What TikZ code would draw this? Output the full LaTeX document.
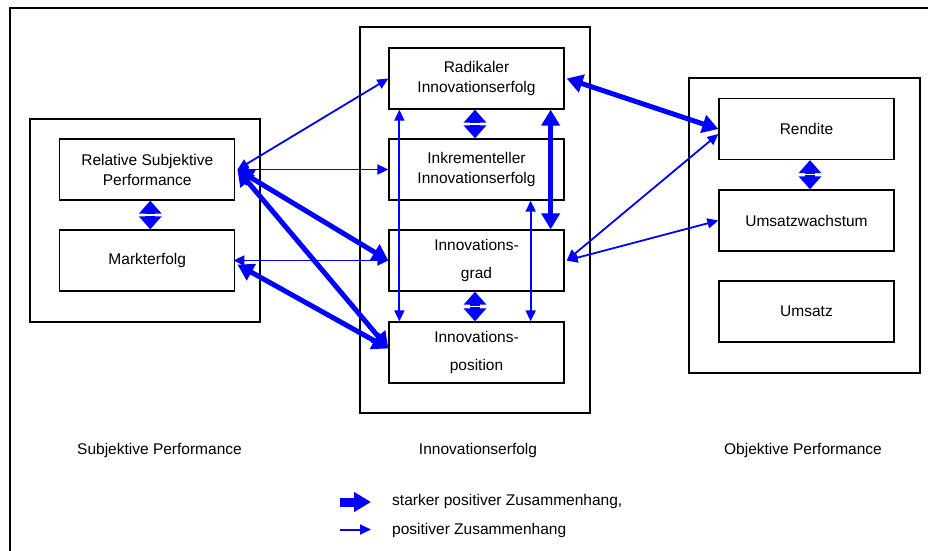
\documentclass[tikz,border=0pt]{standalone}
\usepackage{fontspec}
\setmainfont{Liberation Sans}
\usetikzlibrary{arrows.meta,calc}
\definecolor{arrblue}{RGB}{0,0,255}
\begin{document}
\begin{tikzpicture}[x=1pt,y=-1pt,
  box/.style={draw=black, line width=1.3pt, minimum width=175pt, minimum height=61pt,
    inner sep=0pt, align=center, font=\fontsize{15.5}{20}\selectfont},
  grp/.style={draw=black, line width=1.5pt},
  lbl/.style={inner sep=0pt, font=\fontsize{15.5}{20}\selectfont},
  posarrow/.style={draw=arrblue, line width=1.8pt,
    {Triangle[length=11pt,width=10pt]}-{Triangle[length=11pt,width=10pt]}},
  strongarrow/.style={draw=arrblue, line width=5pt,
    {Triangle[length=16pt,width=18pt]}-{Triangle[length=16pt,width=18pt]}},
  blockarrow/.style={draw=arrblue, line width=10pt, -{Triangle[length=13pt,width=22pt]}},
  legstrong/.style={draw=arrblue, line width=9pt, -{Triangle[length=17pt,width=19pt]}},
  legpos/.style={draw=arrblue, line width=2pt, -{Triangle[length=11pt,width=10pt]}},
]
\useasboundingbox (0,0) rectangle (928,550);
% outer frame
\draw[line width=2pt] (10,560) -- (10,8) -- (940,8);
% group boxes
\draw[grp] (30,119) rectangle (260,322);
\draw[grp] (360,27) rectangle (590,413);
\draw[grp] (689,78) rectangle (920,373);
% nodes
\node[box] (rsp) at (147.25,169.5) {Relative Subjektive\\Performance};
\node[box] (mkt) at (147.25,260.5) {Markterfolg};
\node[box] (rad) at (476.5,78.5) {Radikaler\\Innovationserfolg};
\node[box] (ink) at (476.5,169.5) {Inkrementeller\\Innovationserfolg};
\node[box] (grad) at (476.5,260.5) {Innovations-\\[8pt]grad};
\node[box] (pos) at (476.5,352.5) {Innovations-\\[8pt]position};
\node[box] (ren) at (806.5,129) {Rendite};
\node[box] (uw) at (806.5,220.5) {Umsatzwachstum};
\node[box] (ums) at (806.5,311.5) {Umsatz};
% group labels
\node[lbl] (lsub) at (159.5,450) {Subjektive Performance};
\node[lbl] (linn) at (478,450) {Innovationserfolg};
\node[lbl] (lobj) at (803,450) {Objektive Performance};
% connectors left
\draw[posarrow] ([xshift=2pt]rsp.east) -- (rad.west);
\draw[posarrow] ([xshift=2pt]rsp.east) -- (ink.west);
\draw[strongarrow] ([xshift=2pt]rsp.east) -- (grad.west);
\draw[strongarrow] ([xshift=2pt]rsp.east) -- ([yshift=4pt]pos.west);
\draw[posarrow] ([xshift=-2pt]mkt.east) -- (grad.west);
\draw[strongarrow] ([xshift=2pt,yshift=-4pt]mkt.east) -- ([yshift=4pt]pos.west);
% vertical connectors middle
\draw[posarrow] ([xshift=11pt]rad.south west) -- ([xshift=11pt]pos.north west);
\draw[posarrow] ([xshift=-34pt]ink.south east) -- ([xshift=-34pt]pos.north east);
\draw[strongarrow] ([xshift=-14pt]rad.south east) -- ([xshift=-14pt]grad.north east);
% right connectors
\draw[strongarrow] ([xshift=2pt]rad.east) -- (ren.west);
\draw[posarrow] ([yshift=-5pt]ren.west) -- ([xshift=2pt]grad.east);
\draw[posarrow] (uw.west) -- ([xshift=2pt]grad.east);
% short double block arrows
\coordinate (m1) at ($([xshift=3pt]rsp.south)!.5!([xshift=3pt]mkt.north)$);
\draw[blockarrow] ($(m1)+(0,-0.7)$) -- ([xshift=3pt]rsp.south);
\draw[blockarrow] ($(m1)+(0,0.7)$) -- ([xshift=3pt]mkt.north);
\coordinate (m2) at ($([xshift=-1.5pt]rad.south)!.5!([xshift=-1.5pt]ink.north)$);
\draw[blockarrow] ($(m2)+(0,-0.7)$) -- ([xshift=-1.5pt]rad.south);
\draw[blockarrow] ($(m2)+(0,0.7)$) -- ([xshift=-1.5pt]ink.north);
\coordinate (m3) at ($([xshift=-1.5pt]grad.south)!.5!([xshift=-1.5pt]pos.north)$);
\draw[blockarrow] ($(m3)+(0,-0.7)$) -- ([xshift=-1.5pt]grad.south);
\draw[blockarrow] ($(m3)+(0,0.7)$) -- ([xshift=-1.5pt]pos.north);
\coordinate (m4) at ($([xshift=3.5pt]ren.south)!.5!([xshift=3.5pt]uw.north)$);
\draw[blockarrow] ($(m4)+(0,-0.7)$) -- ([xshift=3.5pt]ren.south);
\draw[blockarrow] ($(m4)+(0,0.7)$) -- ([xshift=3.5pt]uw.north);
% legend
\coordinate (l1a) at (340,502);
\coordinate (l1b) at (371,502);
\coordinate (l2a) at (340,529.5);
\coordinate (l2b) at (371,529.5);
\draw[legstrong] (l1a) -- (l1b);
\draw[legpos] (l2a) -- (l2b);
\node[lbl, anchor=west] (t1) at (392,501) {starker positiver Zusammenhang,};
\node[lbl, anchor=west] (t2) at (392,530) {positiver Zusammenhang};
\end{tikzpicture}
\end{document}
